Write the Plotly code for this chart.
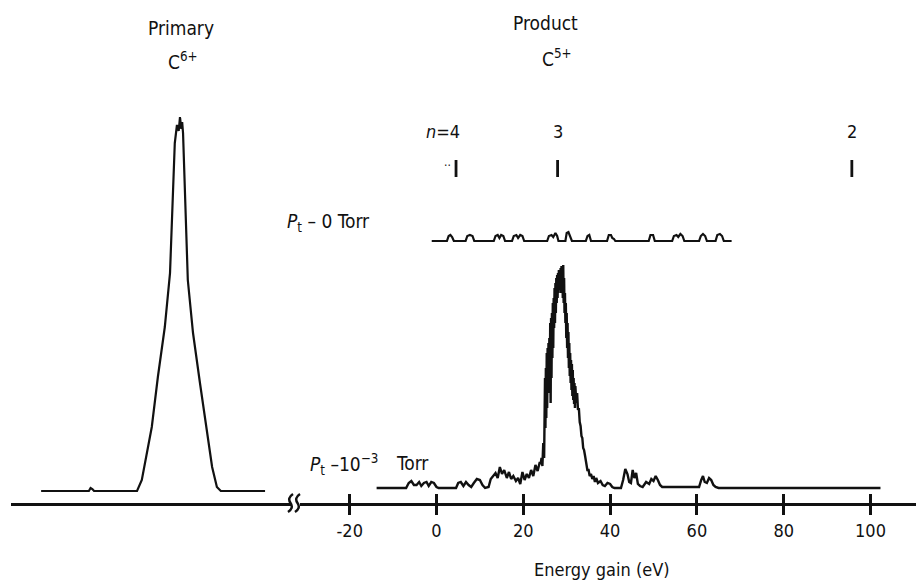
import plotly.graph_objects as go

W, H = 916, 582

# ---------------- data ----------------
# Primary C6+ peak: energy relative to peak centre (eV), intensity (arb. units)
primary_e = [-32.0, -21.0, -20.6, -20.2, -19.8, -9.9, -8.8, -7.6, -6.5, -5.1, -3.5, -2.3,
             -1.2, -0.7, -0.3, 0.0, 0.3, 0.5, 0.7, 1.8, 3.0, 4.6, 6.2, 7.4, 8.5, 9.4, 19.6]
primary_i = [0, 0, 3, 2, 0, 0, 11, 38, 64, 114, 164, 218,
             348, 366, 360, 374, 362, 369, 358, 211, 158, 108, 58, 24, 4, 0, 0]

# Product C5+ spectrum at P_t ~ 1e-3 Torr
product_e = [-13.8, -7.0, -6.4, -5.8, -5.2, -4.6, -4.0, -3.5, -2.9, -2.3, -1.8, -1.2, -0.6, 0.0, 0.5,
             4.5, 5.0, 5.6, 6.2, 6.8, 7.4, 8.0, 8.6, 9.3, 10.0, 10.6, 11.2,
             12.0, 12.5, 13.0, 13.6, 14.1, 14.6, 15.1, 15.6, 16.2, 16.7, 17.2, 17.7, 18.3, 18.8,
             19.3, 19.8, 20.3, 20.8, 21.3, 21.8, 22.3, 22.8, 23.3, 23.8,
             24.0, 24.2, 24.4, 24.6, 24.8, 24.9, 25.0, 25.1, 25.2, 25.3, 25.4, 25.5, 25.6, 25.7,
             25.8, 25.9, 26.0, 26.1, 26.2, 26.3, 26.4, 26.5, 26.6, 26.7, 26.8, 26.9, 27.0, 27.1,
             27.2, 27.3, 27.4, 27.5, 27.6, 27.7, 27.8, 27.9, 28.0, 28.1, 28.2, 28.3, 28.4, 28.5,
             28.6, 28.7, 28.8, 28.9, 29.0, 29.1, 29.2, 29.3, 29.4, 29.5, 29.6, 29.7, 29.8, 29.9,
             30.0, 30.1, 30.2, 30.3, 30.4, 30.5, 30.6, 30.7, 30.8, 30.9, 31.0, 31.1, 31.2, 31.3,
             31.4, 31.5, 31.6, 31.7, 31.8, 31.9, 32.0, 32.2, 32.4, 32.6, 32.8, 33.0, 33.2, 33.4,
             33.6, 33.8, 34.0, 34.2, 34.4, 34.6, 34.8, 35.0, 35.3, 35.6, 35.9, 36.2, 36.5, 36.8,
             37.2, 37.8, 38.3, 38.8, 39.4, 40.0, 40.5, 41.0, 42.5, 43.0, 43.5, 44.0, 44.4, 44.8,
             45.2, 45.6, 46.0, 46.4, 46.9, 47.5, 48.3, 49.0, 49.5, 50.0, 50.5, 51.0, 51.5, 52.0,
             53.0, 60.5, 61.0, 61.4, 61.8, 62.3, 62.8, 63.3, 63.8, 64.3, 65.0, 102.3]
product_i = [0, 0, 5, 7, 3, 3, 6, 2, 5, 6, 2, 6, 5, 1, 0,
             0, 5, 6, 2, 6, 3, 1, 5, 9, 8, 3, 0,
             1, 9, 12, 15, 10, 21, 14, 18, 10, 16, 9, 12, 7, 10,
             4, 16, 8, 14, 10, 18, 12, 23, 17, 26,
             24, 30, 22, 45, 30, 70, 110, 60, 120, 70, 135, 80, 140, 100,
             145, 95, 150, 105, 165, 85, 170, 110, 175, 130, 185, 140, 190, 160,
             200, 165, 205, 175, 210, 185, 213, 190, 215, 195, 218, 200, 216, 198,
             220, 195, 222, 200, 218, 190, 223, 185, 210, 175, 195, 165, 185, 150,
             175, 140, 165, 130, 156, 120, 145, 112, 135, 105, 128, 98, 124, 92,
             118, 88, 110, 84, 105, 80, 102, 85, 95, 78, 80, 66, 62, 52,
             50, 40, 38, 33, 26, 24, 17, 19, 12, 14, 9, 12, 6, 10,
             5, 7, 3, 2, 5, 4, 1, 0, 0, 8, 19, 14, 6, 5,
             18, 10, 15, 4, 2, 1, 6, 4, 9, 7, 12, 8, 3, 1,
             1, 1, 8, 12, 6, 5, 10, 8, 3, 1, 0, 0]

# Product spectrum at P_t ~ 0 Torr (background)
zero_e = [-1.1, 2.4, 2.8, 3.2, 3.6, 4.0, 6.7, 7.1, 7.7, 8.3, 8.7,
          13.2, 13.6, 14.1, 14.5, 14.9, 15.4, 15.8, 17.4, 17.8, 18.4, 18.8, 19.3, 19.8, 20.2,
          25.5, 25.9, 26.5, 26.9, 27.4, 27.8, 28.1, 29.7, 30.0, 30.4, 30.8, 31.2,
          34.4, 34.8, 35.2, 35.6, 39.3, 39.7, 40.2, 40.5, 40.9, 41.2,
          48.9, 49.3, 49.9, 50.3, 54.3, 54.7, 55.3, 55.7, 56.2, 56.7, 57.1,
          60.5, 60.9, 61.4, 61.9, 62.3, 64.3, 64.7, 65.3, 65.8, 66.2, 68.0]
zero_i = [0, 0, 5, 6, 4, 0, 0, 5, 6, 5, 0,
          0, 5, 6, 3, 6, 5, 0, 0, 5, 6, 3, 6, 5, 0,
          0, 5, 6, 4, 8, 5, 0, 0, 8, 9, 4, 0,
          0, 5, 6, 0, 0, 6, 6, 3, 2, 0,
          0, 6, 6, 0, 0, 5, 6, 4, 7, 5, 0,
          0, 5, 7, 5, 0, 0, 6, 7, 5, 0, 0]

# C5+(n) level positions (eV) and labels
level_e = [4.5, 27.9, 95.7]
level_labels = ["<i>n</i>=4", "3", "2"]

tick_vals = [-20, 0, 20, 40, 60, 80, 100]
tick_text = ["-20", "0", "20", "40", "60", "80", "100"]

# ---------------- layout constants ----------------
ZERO_OFFSET = 247          # vertical offset of the 0 Torr trace
LEVEL_Y = (311, 328)       # level marker extent
LABEL_Y = 357
FONT = "DejaVu Sans Condensed, DejaVu Sans, sans-serif"
INK = "#111111"
FS = 19

def pxx(x):
    return x / W

def pyy(y):
    return 1 - y / H

fig = go.Figure()

fig.add_trace(go.Scatter(x=primary_e, y=primary_i, xaxis="x2", yaxis="y2", mode="lines",
                         line=dict(color=INK, width=2.2), hoverinfo="skip"))
fig.add_trace(go.Scatter(x=product_e, y=product_i, mode="lines",
                         line=dict(color=INK, width=2.4), hoverinfo="skip"))
fig.add_trace(go.Scatter(x=zero_e, y=[v + ZERO_OFFSET for v in zero_i], mode="lines",
                         line=dict(color=INK, width=2.2), hoverinfo="skip"))

lx, ly = [], []
for e in level_e:
    lx += [e, e, None]
    ly += [LEVEL_Y[0], LEVEL_Y[1], None]
fig.add_trace(go.Scatter(x=lx, y=ly, mode="lines", line=dict(color=INK, width=2.8),
                         hoverinfo="skip"))

x_right = (300 - 436.5) / 4.34, (916 - 436.5) / 4.34
x_left = (11 - 180) / 4.34, (291 - 180) / 4.34

axis_common = dict(showgrid=False, zeroline=False, showline=True, linecolor=INK, linewidth=3)

fig.update_layout(
    width=W, height=H,
    margin=dict(l=0, r=0, t=0, b=0),
    paper_bgcolor="white", plot_bgcolor="white",
    showlegend=False,
    font=dict(family=FONT, color=INK, size=FS),
    xaxis=dict(domain=[pxx(300), 1], range=list(x_right), anchor="y",
               tickmode="array", tickvals=tick_vals, ticktext=tick_text,
               ticks="outside", ticklen=9, tickwidth=2.5, tickcolor=INK,
               ticklabelstandoff=0, tickfont=dict(size=18, family=FONT, color=INK),
               **axis_common),
    xaxis3=dict(overlaying="x", matches="x", anchor="y", side="bottom",
                tickmode="array", tickvals=tick_vals, ticks="inside", ticklen=9,
                tickwidth=2.5, tickcolor=INK, showticklabels=False, showline=False,
                showgrid=False, zeroline=False),
    xaxis2=dict(domain=[pxx(11), pxx(291)], range=list(x_left), anchor="y2",
                showticklabels=False, ticks="", **axis_common),
    yaxis=dict(domain=[pyy(503), 1], range=[-15, 488], visible=False),
    yaxis2=dict(domain=[pyy(503), 1], range=[-12, 491], visible=False),
)

# dummy trace so that the overlay tick axis is drawn
fig.add_trace(go.Scatter(x=[0], y=[None], xaxis="x3", yaxis="y", mode="lines",
                         hoverinfo="skip", showlegend=False))

# white gap in the axis line + break squiggles
fig.add_shape(type="rect", xref="paper", yref="paper",
              x0=pxx(291), x1=pxx(300), y0=pyy(499), y1=pyy(507),
              fillcolor="white", line=dict(width=0), layer="above")
for x0 in (289, 296):
    path = (f"M {pxx(x0+4)},{pyy(494)} "
            f"Q {pxx(x0-2)},{pyy(498)} {pxx(x0+1.5)},{pyy(503)} "
            f"Q {pxx(x0+5)},{pyy(508)} {pxx(x0-1)},{pyy(512)}")
    fig.add_shape(type="path", path=path, xref="paper", yref="paper",
                  line=dict(color=INK, width=2.5), layer="above")

def note(text, x, y, size=FS, xanchor="center"):
    fig.add_annotation(text=text, x=pxx(x), y=pyy(y), xref="paper", yref="paper",
                       showarrow=False, xanchor=xanchor, yanchor="middle",
                       font=dict(size=size, family=FONT, color=INK))

note("Primary", 181, 28)
note("C<sup>6+</sup>", 183, 61)
note("Product", 545, 23)
note("C<sup>5+</sup>", 557, 58)
note("<i>P</i><sub>t</sub> – 0 Torr", 285, 222, xanchor="left")
note("<i>P</i><sub>t</sub> –10<sup>−3</sup>", 308, 464, xanchor="left")
note("Torr", 394, 463, xanchor="left")
note("Energy gain (eV)", 602, 569, size=18)
note("··", 447, 166, size=12)

for e, lab in zip(level_e, level_labels):
    fig.add_annotation(text=lab, x=e + (1.4 if lab.startswith("<i>") else 0), y=LABEL_Y,
                       xref="x", yref="y", showarrow=False,
                       xanchor="right" if lab.startswith("<i>") else "center",
                       yanchor="middle", font=dict(size=18, family=FONT, color=INK))

fig.write_html("out.html")
